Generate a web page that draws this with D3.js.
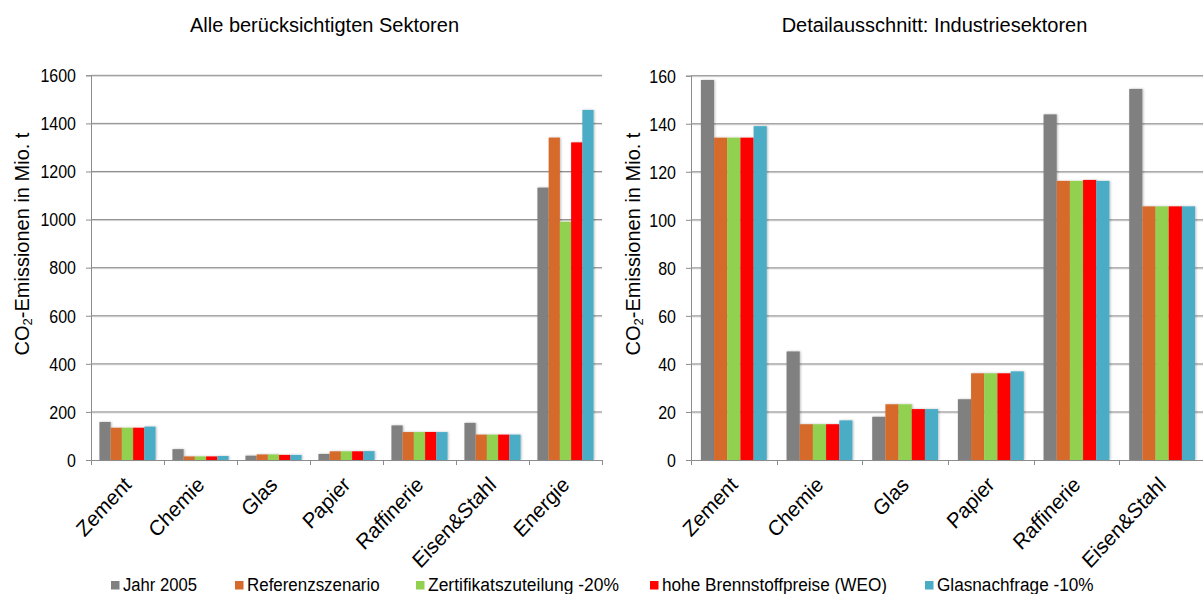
<!DOCTYPE html>
<html>
<head>
<meta charset="utf-8">
<script src="https://cdn.jsdelivr.net/npm/d3@7"></script>
<style>
  html, body { margin: 0; padding: 0; background: #fff; }
  svg { display: block; font-family: "Liberation Sans", Arial, sans-serif; }
</style>
</head>
<body>
<svg id="chart" width="1203" height="594"></svg>
<script>
// ---- Data ----
const categoriesAll = ["Zement", "Chemie", "Glas", "Papier", "Raffinerie", "Eisen&Stahl", "Energie"];
const categoriesIndustry = ["Zement", "Chemie", "Glas", "Papier", "Raffinerie", "Eisen&Stahl"];
const seriesNames = ["Jahr 2005", "Referenzszenario", "Zertifikatszuteilung -20%", "hohe Brennstoffpreise (WEO)", "Glasnachfrage -10%"];
const jahr2005 =        [158.2, 45.2, 18.0, 25.3, 143.9, 154.5, 1133];
const referenz =        [134.2, 14.9, 23.2, 36.1, 116.2, 105.6, 1341];
const zertifikat =      [134.2, 14.9, 23.2, 36.1, 116.2, 105.6, 991];
const brennstoff =      [134.2, 14.9, 21.2, 36.1, 116.6, 105.6, 1321];
const glasnachfrage =   [139.0, 16.5, 21.2, 36.9, 116.2, 105.6, 1456];
const seriesValues = [jahr2005, referenz, zertifikat, brennstoff, glasnachfrage];
const seriesColors = ["#808080", "#d66a2b", "#92d050", "#ff0000", "#4bacc6"];
const ticksAll = [0, 200, 400, 600, 800, 1000, 1200, 1400, 1600];
const ticksIndustry = [0, 20, 40, 60, 80, 100, 120, 140, 160];
const titleAll = "Alle berücksichtigten Sektoren";
const titleIndustry = "Detailausschnitt: Industriesektoren";

// ---- Drawing ----
const svg = d3.select("#chart");
const defs = svg.append("defs");
const f = defs.append("filter").attr("id", "sh").attr("x", "-20%").attr("y", "-5%").attr("width", "160%").attr("height", "120%");
f.append("feDropShadow").attr("dx", 1).attr("dy", 0).attr("stdDeviation", 0.8)
  .attr("flood-color", "#000").attr("flood-opacity", 0.25);

function drawChart(o) {
  const g = svg.append("g");
  const x = d3.scaleBand().domain(o.cats).range([o.x0, o.x1]).paddingInner(0).paddingOuter(0);
  const xs = d3.scaleBand().domain(d3.range(seriesNames.length)).range([0, x.bandwidth()])
    .paddingInner(0).paddingOuter(0.75);
  const y = d3.scaleLinear().domain([0, o.max]).range([460, o.yTop]);

  // gridlines
  o.ticks.filter(t => t > 0).forEach(t => {
    g.append("line").attr("x1", o.x0).attr("x2", o.gridEnd).attr("y1", y(t) + 1).attr("y2", y(t) + 1)
      .attr("stroke", "#d4d4d4").attr("stroke-width", 1);
    g.append("line").attr("x1", o.x0).attr("x2", o.gridEnd).attr("y1", y(t)).attr("y2", y(t))
      .attr("stroke", "#8c8c8c").attr("stroke-width", 1);
  });

  // bars
  seriesValues.forEach((vals, si) => {
    g.append("g").attr("filter", "url(#sh)").selectAll("rect")
      .data(o.cats.map((c, i) => ({ c, v: vals[i] })))
      .join("rect")
      .attr("x", d => x(d.c) + xs(si))
      .attr("width", xs.bandwidth())
      .attr("y", d => y(d.v))
      .attr("height", d => y(0) - y(d.v))
      .attr("fill", seriesColors[si]);
  });

  // y axis
  const ya = d3.axisLeft(y).tickValues(o.ticks).tickSize(5).tickPadding(10).tickFormat(d3.format("d"));
  const yg = g.append("g").attr("transform", `translate(${o.x0},0)`).call(ya);
  yg.select(".domain").attr("stroke", "#8c8c8c");
  yg.selectAll(".tick line").attr("stroke", "#8c8c8c");
  yg.selectAll(".tick text").attr("font-size", 16).attr("fill", "#000")
    .attr("font-family", "Liberation Sans, Arial, sans-serif")
    .attr("dy", "0.36em")
    .attr("transform", "translate(-15,0) scale(1,1.1) translate(15,0)");

  // x axis line + ticks at band boundaries
  g.append("line").attr("x1", o.x0).attr("x2", o.gridEnd).attr("y1", 460.5).attr("y2", 460.5)
    .attr("stroke", "#8c8c8c");
  const bounds = o.cats.map(c => x(c)).concat([o.x1]);
  g.selectAll(".xt").data(bounds).join("line")
    .attr("x1", d => Math.round(d) + 0.5).attr("x2", d => Math.round(d) + 0.5)
    .attr("y1", 460).attr("y2", 465).attr("stroke", "#8c8c8c");

  // category labels
  g.selectAll(".cl").data(o.cats).join("text")
    .attr("transform", d => `translate(${x(d) + x.bandwidth() / 2 + 5},${486}) scale(1,1.08) rotate(-45)`)
    .attr("text-anchor", "end")
    .attr("font-size", 20)
    .attr("fill", "#000")
    .text(d => d);

  // title
  g.append("text").attr("x", o.titleX).attr("y", 31.5).attr("text-anchor", "middle")
    .attr("font-size", 20).attr("fill", "#000").text(o.title);

  // y label
  const yl = g.append("text")
    .attr("transform", `translate(${o.ylabX},244) rotate(-90)`)
    .attr("text-anchor", "middle").attr("font-size", 20).attr("fill", "#000");
  yl.append("tspan").text("CO");
  yl.append("tspan").text("2").attr("font-size", 13).attr("baseline-shift", "-25%");
  yl.append("tspan").text("-Emissionen in Mio. t");
}

drawChart({ cats: categoriesAll, x0: 91, x1: 602, gridEnd: 602, max: 1600, yTop: 75.3,
  ticks: ticksAll, title: titleAll, titleX: 324.5, ylabX: 29 });
drawChart({ cats: categoriesIndustry, x0: 691, x1: 1205, gridEnd: 1205, max: 160, yTop: 75.7,
  ticks: ticksIndustry, title: titleIndustry, titleX: 934.5, ylabX: 640 });

// legend
const legendLayout = [
  { mx: 111, tw: 74 },
  { mx: 235, tw: 132.6 },
  { mx: 416, tw: 191 },
  { mx: 650, tw: 225 },
  { mx: 925, tw: 156.6 }
];
const lg = svg.append("g");
seriesNames.forEach((name, i) => {
  const L = legendLayout[i];
  lg.append("rect").attr("x", L.mx).attr("y", 581).attr("width", 8.5).attr("height", 8.5)
    .attr("fill", seriesColors[i]);
  lg.append("text").attr("x", L.mx + 12).attr("y", 591).attr("font-size", 18)
    .attr("textLength", L.tw).attr("lengthAdjust", "spacingAndGlyphs")
    .attr("fill", "#000").text(name);
});
</script>
</body>
</html>
